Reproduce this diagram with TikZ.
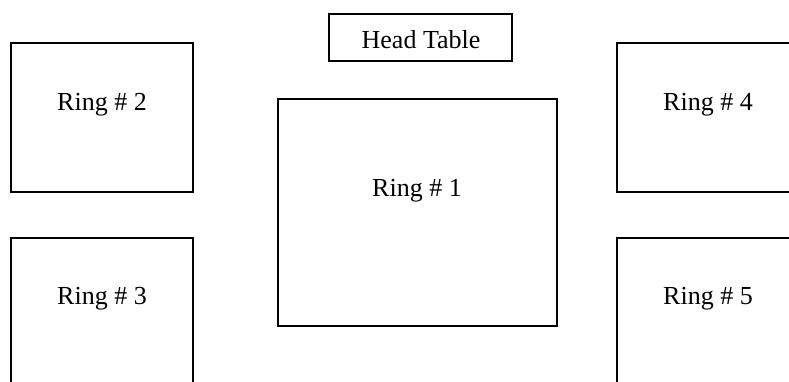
\documentclass[tikz,border=0pt]{standalone}
\usepackage{fontspec}
\setmainfont{Liberation Serif}
\begin{document}
\begin{tikzpicture}[x=1pt,y=-1pt,
  box/.style={draw, line width=1.2pt, rectangle, inner sep=0pt},
  lbl/.style={font=\fontsize{26}{30}\selectfont, anchor=base, inner sep=0pt}]
\useasboundingbox (0,0) rectangle (789,381);
% boxes
\node[box, minimum width=183pt, minimum height=47pt] (head) at (420.5,37.5) {};
\node[box, minimum width=279pt, minimum height=227pt] (r1) at (417.5,212.5) {};
\node[box, minimum width=182pt, minimum height=149pt] (r2) at (102,117.5) {};
\node[box, minimum width=182pt, minimum height=162pt] (r3) at (102,319) {};
\node[box, minimum width=193pt, minimum height=149pt] (r4) at (713.5,117.5) {};
\node[box, minimum width=193pt, minimum height=162pt] (r5) at (713.5,319) {};
% labels
\node[lbl] (thead) at (421,48.3) {Head Table};
\node[lbl] (t1) at (417,196.7) {Ring \# 1};
\node[lbl] (t2) at (102,110) {Ring \# 2};
\node[lbl] (t3) at (102,304) {Ring \# 3};
\node[lbl] (t4) at (708,110) {Ring \# 4};
\node[lbl] (t5) at (708,304) {Ring \# 5};
\end{tikzpicture}
\end{document}
